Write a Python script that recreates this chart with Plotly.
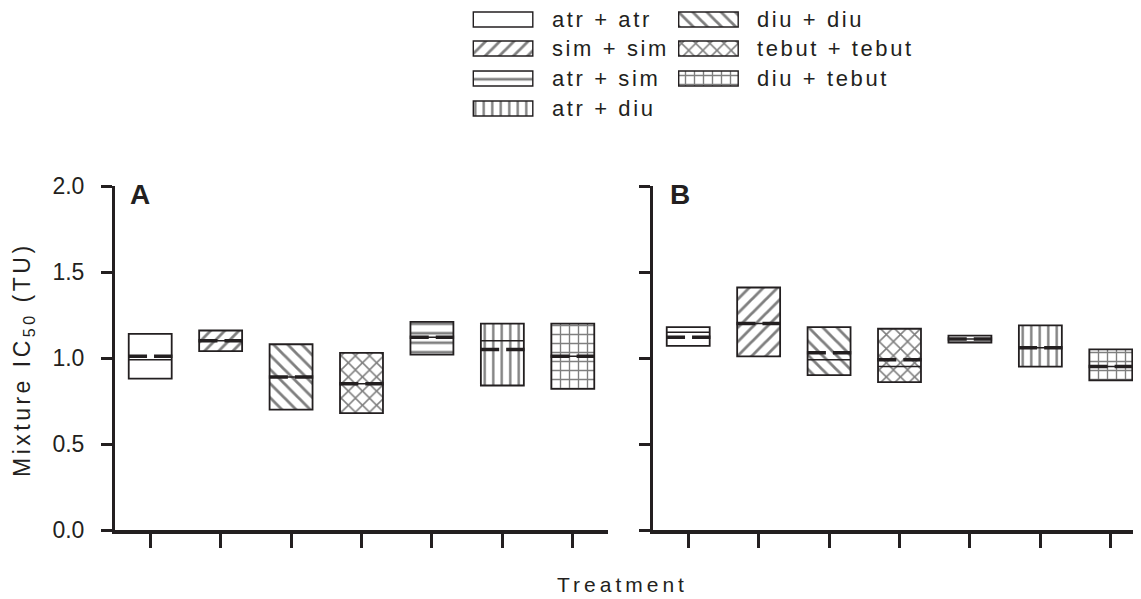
import plotly.graph_objects as go

# ---------------- data ----------------
combos = ["atr + atr", "sim + sim", "diu + diu", "tebut + tebut",
          "atr + sim", "atr + diu", "diu + tebut"]
patterns = ["", "/", "\\", "x", "-", "|", "+"]

# Panel A
A_low = [0.88, 1.04, 0.70, 0.68, 1.02, 0.84, 0.82]
A_high = [1.14, 1.16, 1.08, 1.03, 1.21, 1.20, 1.20]
A_est = [1.01, 1.10, 0.89, 0.85, 1.12, 1.05, 1.01]
A_med = [0.99, 1.10, 0.89, 0.85, 1.12, 1.10, 1.01]

# Panel B
B_low = [1.07, 1.01, 0.90, 0.86, 1.09, 0.95, 0.87]
B_high = [1.18, 1.41, 1.18, 1.17, 1.13, 1.19, 1.05]
B_est = [1.12, 1.20, 1.03, 0.99, 1.11, 1.06, 0.95]
B_med = [1.15, 1.20, 0.99, 0.95, 1.11, 1.06, 0.95]

legend_order = ["atr + atr", "sim + sim", "atr + sim", "atr + diu",
                "diu + diu", "tebut + tebut", "diu + tebut"]
y_ticks = [0.0, 0.5, 1.0, 1.5, 2.0]

# ---------------- styling ----------------
INK = "#231f20"
FONT = "Liberation Sans, Arial, sans-serif"
W, H = 1141, 599
OX, OY = 8, 8          # page offset of the plot div (body margin)
pat_size = {"": 8, "/": 10, "\\": 10, "x": 10, "-": 9.5, "|": 8.5, "+": 9}
PAT_SOLID = 0.28
BOX_W = 0.61
LINE_HALF = 0.315


def xp(sx):
    return (sx - OX) / W


def yp(sy):
    return 1 - (sy - OY) / H


positions = list(range(len(combos)))

fig = go.Figure()


def add_panel(low, high, est, med, xa, ya):
    fig.add_trace(go.Bar(
        x=positions, y=[h - l for h, l in zip(high, low)], base=low, width=BOX_W,
        marker=dict(color="white", line=dict(color=INK, width=1.8),
                    pattern=dict(shape=patterns, fgcolor="black", bgcolor="white",
                                 size=[pat_size[p] for p in patterns],
                                 solidity=PAT_SOLID)),
        xaxis=xa, yaxis=ya, showlegend=False, hoverinfo="skip"))
    mx, my = [], []
    for p, v in zip(positions, med):
        mx += [p - BOX_W / 2, p + BOX_W / 2, None]
        my += [v, v, None]
    fig.add_trace(go.Scatter(x=mx, y=my, mode="lines",
                             line=dict(color=INK, width=1.5),
                             xaxis=xa, yaxis=ya, showlegend=False, hoverinfo="skip"))
    ex, ey = [], []
    for p, v in zip(positions, est):
        ex += [p - LINE_HALF, p + LINE_HALF, None]
        ey += [v, v, None]
    fig.add_trace(go.Scatter(x=ex, y=ey, mode="lines",
                             line=dict(color=INK, width=3.5, dash="19px,7px"),
                             xaxis=xa, yaxis=ya, showlegend=False, hoverinfo="skip"))


add_panel(A_low, A_high, A_est, A_med, "x", "y")
add_panel(B_low, B_high, B_est, B_med, "x2", "y2")

# ---------------- custom legend (pixel-mapped helper axis, screen px) ----------------
lx0, lx1 = xp(420), xp(1000)
ly0, ly1 = yp(135), 1.0
row_c = [19.5, 48.5, 78.5, 108.5]
col_sw = [473.3, 678.7]
col_tx = [550, 755]
sw_w, sw_h = 59.5, 15

lg_y, lg_base, lg_pat = [], [], []
for i, name in enumerate(legend_order):
    c = 0 if i < 4 else 1
    r = i if i < 4 else i - 4
    pat = patterns[combos.index(name)]
    lg_y.append(row_c[r])
    lg_base.append(col_sw[c])
    lg_pat.append(pat)
    fig.add_annotation(x=col_tx[c], y=row_c[r], xref="x3", yref="y3",
                       text=f"<span style='letter-spacing:2.6px'>{name}</span>",
                       showarrow=False, xanchor="left", yanchor="middle",
                       font=dict(size=22, color=INK, family=FONT))

fig.add_trace(go.Bar(
    y=lg_y, x=[sw_w] * len(lg_y), base=lg_base, width=sw_h, orientation="h",
    marker=dict(color="white", line=dict(color=INK, width=1.4),
                pattern=dict(shape=lg_pat, fgcolor="black", bgcolor="white",
                             size=[pat_size[p] for p in lg_pat], solidity=PAT_SOLID)),
    xaxis="x3", yaxis="y3", showlegend=False, hoverinfo="skip"))

# ---------------- axes ----------------
y_dom = [yp(530), yp(186)]
xa_common = dict(showgrid=False, zeroline=False, showticklabels=False,
                 tickvals=positions, ticks="outside", ticklen=14, tickwidth=2.5,
                 tickcolor=INK, showline=True, linecolor=INK, linewidth=4)
ya_common = dict(showgrid=False, zeroline=False, range=[0, 2], tickvals=y_ticks,
                 tickformat=".1f", ticks="outside", ticklen=11, tickwidth=3,
                 tickcolor=INK, showline=True, linecolor=INK, linewidth=3,
                 domain=y_dom, ticklabelstandoff=12,
                 tickfont=dict(size=23, color=INK, family=FONT))

# B axis ends at the right window edge, same px-per-category as A
px_per = (608 - 115) / 7.0
b_right = -0.5 + (1141 - 653) / px_per

fig.update_layout(
    width=W, height=H, margin=dict(l=0, r=0, t=0, b=0, autoexpand=False),
    paper_bgcolor="white", plot_bgcolor="rgba(0,0,0,0)",
    font=dict(family=FONT, color=INK),
    barmode="overlay",
    xaxis=dict(domain=[xp(115), xp(608)], range=[-0.5, 6.5], anchor="y", **xa_common),
    xaxis2=dict(domain=[xp(653), xp(1141)], range=[-0.5, b_right], anchor="y2", **xa_common),
    yaxis=dict(anchor="x", **ya_common),
    yaxis2=dict(anchor="x2", showticklabels=False,
                **{k: v for k, v in ya_common.items() if k not in ("tickfont",)}),
    xaxis3=dict(domain=[lx0, lx1], range=[420, 1000], visible=False,
                anchor="y3", fixedrange=True),
    yaxis3=dict(domain=[ly0, ly1], range=[135, OY], visible=False,
                anchor="x3", fixedrange=True),
    showlegend=False,
)

# panel labels
for txt, px in (("A", 128), ("B", 668)):
    fig.add_annotation(x=xp(px), y=yp(195), xref="paper", yref="paper",
                       text=f"<b>{txt}</b>", showarrow=False,
                       xanchor="left", yanchor="middle",
                       font=dict(size=28, color=INK, family=FONT))

# axis titles
fig.add_annotation(x=xp(23), y=yp(360), xref="paper", yref="paper",
                   text="<span style='letter-spacing:3.5px'>Mixture IC<sub>50</sub> (TU)</span>",
                   textangle=-90, showarrow=False, xanchor="center", yanchor="middle",
                   font=dict(size=23, color=INK, family=FONT))
fig.add_annotation(x=xp(622), y=yp(584.5), xref="paper", yref="paper",
                   text="<span style='letter-spacing:4px'>Treatment</span>",
                   showarrow=False, xanchor="center", yanchor="middle",
                   font=dict(size=21, color=INK, family=FONT))

fig.write_html("out.html")
